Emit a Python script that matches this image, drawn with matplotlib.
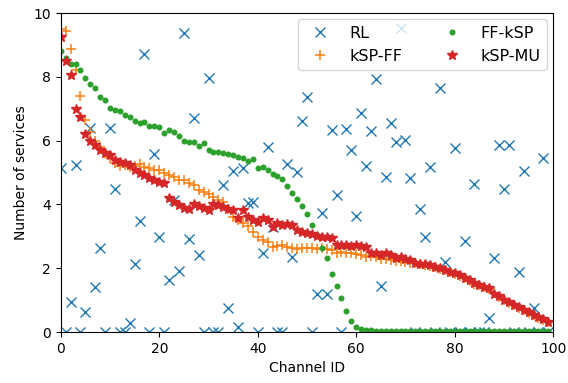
import matplotlib
matplotlib.use("Agg")
import matplotlib.pyplot as plt
import numpy as np

channels = list(range(100))

rl_nonzero = {
    0: 5.15, 2: 0.94, 3: 5.23, 5: 0.62, 6: 6.4, 7: 1.41, 8: 2.63, 10: 6.4, 11: 4.47,
    14: 0.29, 15: 2.13, 16: 3.48, 17: 8.7, 19: 5.57, 20: 2.98, 22: 1.63, 23: 4.13,
    24: 1.9, 25: 9.37, 26: 2.91, 27: 6.7, 28: 2.41, 30: 7.96, 33: 4.6, 34: 0.75,
    35: 5.05, 36: 0.16, 37: 5.14, 38: 4.04, 39: 4.08, 41: 2.48, 42: 5.8, 43: 3.3,
    46: 5.27, 47: 2.35, 48: 5.02, 49: 6.6, 50: 7.37, 52: 1.19, 53: 3.73, 54: 1.19,
    55: 6.33, 56: 4.3, 58: 6.36, 59: 5.7, 60: 3.64, 61: 6.86, 62: 5.2, 63: 6.3,
    64: 7.93, 65: 1.44, 66: 4.86, 67: 6.55, 68: 5.96, 69: 9.53, 70: 6.02, 71: 4.83,
    73: 3.86, 74: 2.98, 75: 5.17, 77: 7.65, 78: 2.2, 80: 5.77, 82: 2.85, 84: 4.64,
    87: 0.44, 88: 2.32, 89: 5.86, 90: 4.48, 91: 5.86, 93: 1.88, 94: 5.06, 96: 0.75,
    98: 5.45,
}
rl = [rl_nonzero.get(c, 0.0) for c in channels]

ksp_ff = [
    9.5, 9.43, 8.87, 8.2, 7.4, 6.65, 6.28, 6.0, 5.8, 5.6,
    5.45, 5.3, 5.2, 5.23, 5.17, 5.2, 5.27, 5.17, 5.14, 5.08,
    5.08, 4.98, 4.92, 4.86, 4.77, 4.77, 4.67, 4.61, 4.45, 4.39,
    4.33, 4.23, 4.15, 4.07, 3.86, 3.6, 3.5, 3.42, 3.33, 3.13,
    2.98, 2.88, 2.82, 2.67, 2.7, 2.73, 2.67, 2.63, 2.6, 2.63,
    2.65, 2.62, 2.6, 2.63, 2.6, 2.57, 2.48, 2.5, 2.48, 2.47,
    2.45, 2.42, 2.35, 2.37, 2.35, 2.3, 2.28, 2.26, 2.24, 2.22,
    2.2, 2.18, 2.15, 2.12, 2.1, 2.08, 2.03, 1.98, 1.93, 1.87,
    1.82, 1.76, 1.68, 1.6, 1.52, 1.46, 1.4, 1.35, 1.22, 1.1,
    1.0, 0.92, 0.84, 0.76, 0.68, 0.61, 0.53, 0.45, 0.38, 0.3,
]

ff_ksp = [
    8.8, 8.59, 8.4, 8.4, 8.2, 7.97, 7.77, 7.65, 7.37, 7.27,
    7.02, 6.96, 6.93, 6.8, 6.74, 6.61, 6.55, 6.58, 6.46, 6.46,
    6.43, 6.24, 6.33, 6.27, 6.14, 5.98, 5.95, 5.95, 5.83, 5.92,
    5.71, 5.64, 5.64, 5.61, 5.58, 5.55, 5.49, 5.45, 5.36, 5.42,
    5.14, 5.17, 5.08, 4.96, 4.9, 4.8, 4.58, 4.36, 4.17, 3.95,
    3.69, 3.37, 3.04, 2.63, 2.32, 1.82, 1.44, 1.07, 0.66, 0.34,
    0.16, 0.09, 0.05, 0.05, 0.04, 0.04, 0.04, 0.04, 0.03, 0.03,
    0.03, 0.03, 0.03, 0.03, 0.03, 0.03, 0.03, 0.03, 0.03, 0.03,
    0.03, 0.03, 0.03, 0.03, 0.03, 0.03, 0.03, 0.03, 0.03, 0.03,
    0.03, 0.03, 0.03, 0.03, 0.03, 0.03, 0.03, 0.03, 0.03, 0.03,
]

ksp_mu = [
    9.25, 8.5, 8.05, 6.98, 6.75, 6.2, 6.0, 5.85, 5.7, 5.6,
    5.55, 5.4, 5.34, 5.29, 5.23, 5.08, 4.98, 4.92, 4.83, 4.77,
    4.7, 4.67, 4.2, 4.07, 3.98, 3.89, 3.85, 4.0, 3.95, 3.88,
    3.82, 4.0, 3.98, 3.92, 3.85, 3.82, 3.57, 3.82, 3.6, 3.5,
    3.45, 3.57, 3.51, 3.29, 3.42, 3.35, 3.38, 3.35, 3.2, 3.13,
    3.1, 3.07, 3.02, 2.98, 2.98, 2.95, 2.73, 2.73, 2.72, 2.7,
    2.72, 2.7, 2.67, 2.48, 2.48, 2.41, 2.48, 2.42, 2.32, 2.35,
    2.28, 2.25, 2.16, 2.13, 2.12, 2.1, 2.05, 2.0, 1.95, 1.88,
    1.85, 1.78, 1.69, 1.62, 1.53, 1.48, 1.41, 1.38, 1.2, 1.12,
    1.0, 0.94, 0.85, 0.78, 0.7, 0.63, 0.55, 0.47, 0.4, 0.31,
]

fig = plt.figure(figsize=(5.68, 3.83), dpi=100)
ax = fig.add_axes([0.107, 0.133, 0.867, 0.833])

ax.plot(channels, rl, linestyle="none", marker="x", color="tab:blue",
        markersize=6.5, markeredgewidth=1.0, label="RL")
ax.plot(channels, ksp_ff, linestyle="none", marker="+", color="tab:orange",
        markersize=7, markeredgewidth=1.1, label="kSP-FF")
ax.plot(channels, ff_ksp, linestyle="none", marker="o", color="tab:green",
        markersize=3.3, label="FF-kSP")
ax.plot(channels, ksp_mu, linestyle="none", marker="*", color="tab:red",
        markersize=7, label="kSP-MU")

ax.set_xlim(0, 100)
ax.set_ylim(0, 10)
ax.set_xlabel("Channel ID", fontsize=10)
ax.set_ylabel("Number of services", fontsize=10)
ax.tick_params(labelsize=10)
ax.legend(ncol=2, loc="upper right", fontsize=11.5, columnspacing=2.1,
          handlelength=2.0, borderaxespad=0.4)

fig.savefig("out.png", dpi=100)
